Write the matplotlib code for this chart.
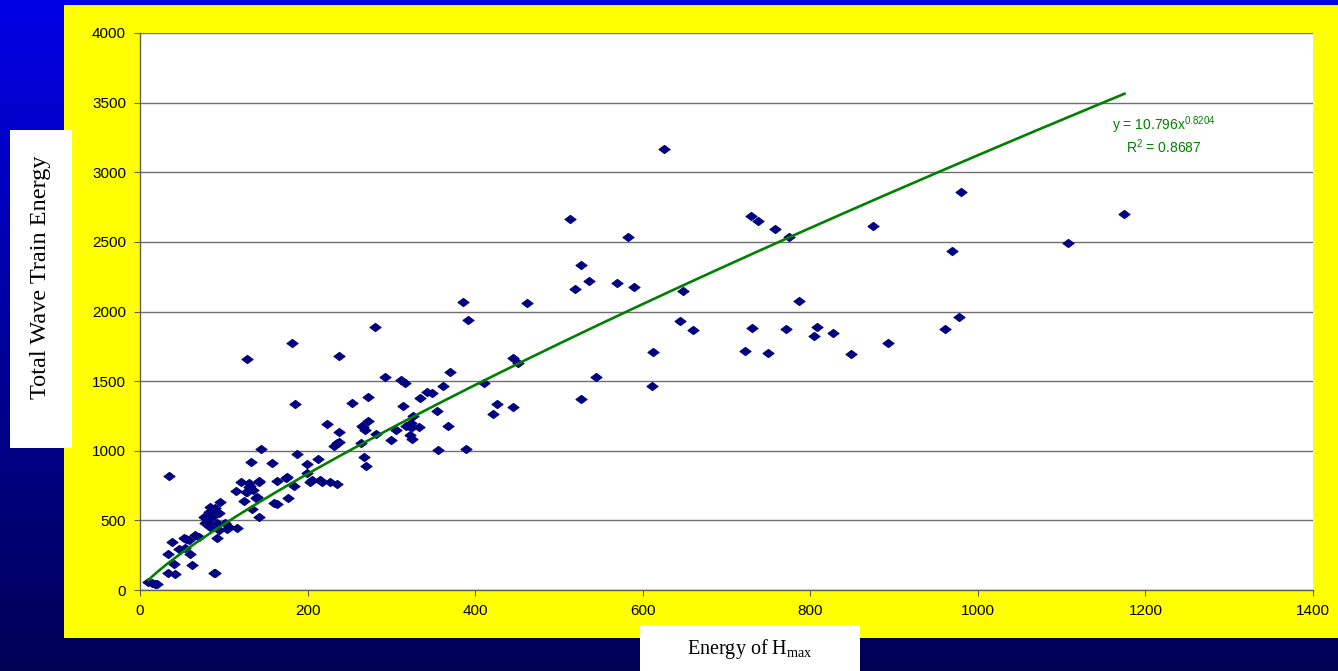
#!/usr/bin/env python

import numpy as np
import matplotlib
matplotlib.use('Agg')
import matplotlib.pyplot as plt
from matplotlib.colors import LinearSegmentedColormap
from matplotlib.patches import Rectangle

plt.rcParams['font.family'] = ['Liberation Sans', 'DejaVu Sans']
plt.rcParams['mathtext.fontset'] = 'custom'
plt.rcParams['mathtext.rm'] = 'Liberation Serif'
plt.rcParams['mathtext.sf'] = 'Liberation Sans'

# energy of Hmax (x) and total wave train energy (y)
energy_hmax = [10, 14, 18, 20, 34, 42, 88, 90, 40, 62,
               34, 46, 60, 54, 38, 52, 55, 58, 66, 70,
               35, 76, 78, 80, 82, 84, 84, 86, 90, 92,
               94, 92, 94, 96, 102, 106, 116, 104, 114, 120,
               124, 126, 128, 130, 130, 131, 134, 135, 138, 140,
               142, 142, 142, 145, 133, 157, 160, 163, 164, 174,
               176, 177, 184, 187, 199, 199, 203, 205, 213, 215,
               217, 227, 235, 223, 231, 235, 237, 238, 128, 181,
               185, 238, 281, 253, 264, 265, 267, 269, 270, 272,
               272, 282, 292, 299, 305, 312, 314, 316, 321, 322,
               325, 325, 326, 333, 334, 343, 348, 354, 356, 362,
               368, 370, 386, 389, 392, 410, 421, 426, 445, 445,
               451, 462, 323, 318, 266, 513, 519, 526, 526, 536,
               544, 569, 582, 590, 611, 612, 625, 644, 648, 660,
               722, 729, 730, 737, 749, 758, 771, 775, 787, 805,
               808, 827, 849, 875, 893, 961, 969, 978, 980, 1107,
               1175]
total_energy = [55, 50, 45, 43, 125, 118, 120, 124, 188, 177,
                260, 292, 260, 300, 347, 371, 365, 359, 395, 383,
                821, 526, 479, 490, 562, 598, 455, 526, 586, 479,
                431, 371, 551, 635, 479, 455, 443, 440, 711, 778,
                641, 706, 706, 742, 766, 747, 579, 718, 658, 665,
                778, 785, 526, 1010, 917, 909, 622, 785, 617, 807,
                814, 663, 747, 976, 907, 838, 778, 790, 938, 790,
                778, 778, 761, 1191, 1035, 1053, 1137, 1060, 1658, 1771,
                1335, 1680, 1888, 1340, 1058, 1177, 957, 1149, 890, 1215,
                1388, 1120, 1531, 1077, 1149, 1508, 1323, 1484, 1177, 1113,
                1173, 1082, 1249, 1168, 1376, 1419, 1412, 1287, 1005, 1467,
                1177, 1563, 2065, 1012, 1938, 1484, 1263, 1335, 1668, 1314,
                1632, 2062, 1196, 1177, 1172, 2663, 2159, 2331, 1371, 2221,
                1531, 2202, 2536, 2178, 1467, 1711, 3166, 1931, 2146, 1864,
                1716, 2687, 1878, 2649, 1704, 2592, 1871, 2532, 2077, 1823,
                1890, 1845, 1697, 2613, 1776, 1876, 2436, 1960, 2860, 2489,
                2699]

# power trendline y = a * x^b
fit_a = 10.796
fit_b = 0.8204
fit_r2 = 0.8687

x_ticks = [0, 200, 400, 600, 800, 1000, 1200, 1400]
y_ticks = [0, 500, 1000, 1500, 2000, 2500, 3000, 3500, 4000]

W, H = 1338, 671
fig = plt.figure(figsize=(W / 100, H / 100), dpi=100)

# blue gradient background
bg = fig.add_axes([0, 0, 1, 1])
grad = np.linspace(0, 1, 256).reshape(-1, 1)
cmap = LinearSegmentedColormap.from_list('bg', ['#0000e6', '#000055'])
bg.imshow(grad, aspect='auto', cmap=cmap, extent=[0, 1, 0, 1], origin='upper')
bg.set_xlim(0, 1)
bg.set_ylim(0, 1)
bg.axis('off')


def px_rect(x0, y0, x1, y1, color):
    # rectangle given in pixel corners (top-left origin)
    bg.add_patch(Rectangle((x0 / W, 1 - y1 / H), (x1 - x0) / W, (y1 - y0) / H,
                           facecolor=color, edgecolor='none'))


px_rect(64, 5, W, 638, '#ffff00')
px_rect(10, 130, 72, 448, 'white')
px_rect(640, 625, 860, H, 'white')

# plot area
ax = fig.add_axes([140 / W, 1 - 590 / H, (1313 - 140) / W, (590 - 33) / H])
ax.set_facecolor('white')

# Excel style diamond, a bit wider than tall
diamond = [(-1, 0), (0, 0.74), (1, 0), (0, -0.74), (-1, 0)]
ax.scatter(energy_hmax, total_energy, marker=diamond, s=68, color='#000080',
           edgecolors='#000080', linewidths=0.6, zorder=5)

xf = np.linspace(min(energy_hmax), max(energy_hmax), 300)
ax.plot(xf, fit_a * xf ** fit_b, color='#008000', lw=1.9, zorder=6)

ax.text(1222, 3340, f'y = {fit_a}x$^{{\\mathsf{{{fit_b}}}}}$', color='#008000',
        fontsize=10, ha='center', va='center')
ax.text(1222, 3185, f'R$^{{\\mathsf{{2}}}}$ = {fit_r2}', color='#008000',
        fontsize=10, ha='center', va='center')

ax.set_xlim(0, 1400)
ax.set_ylim(0, 4000)
ax.set_xticks(x_ticks)
ax.set_yticks(y_ticks)
ax.yaxis.grid(True, color='#707070', lw=1.0)
ax.set_axisbelow(True)
for side in ['top', 'right']:
    ax.spines[side].set_visible(False)
for side in ['left', 'bottom']:
    ax.spines[side].set_color('#606060')
    ax.spines[side].set_linewidth(1.0)
ax.tick_params(direction='out', length=4, color='#606060', labelsize=11,
               labelcolor='black', pad=6)

fig.text(41 / W, 1 - 277 / H, 'Total Wave Train Energy', rotation=90,
         ha='center', va='center', fontsize=17.5, family='Liberation Serif')
fig.text(750 / W, 1 - 649 / H, 'Energy of H$_{\\mathrm{max}}$',
         ha='center', va='center', fontsize=14.5, family='Liberation Serif')

plt.savefig('out.png', dpi=100)
plt.close()
